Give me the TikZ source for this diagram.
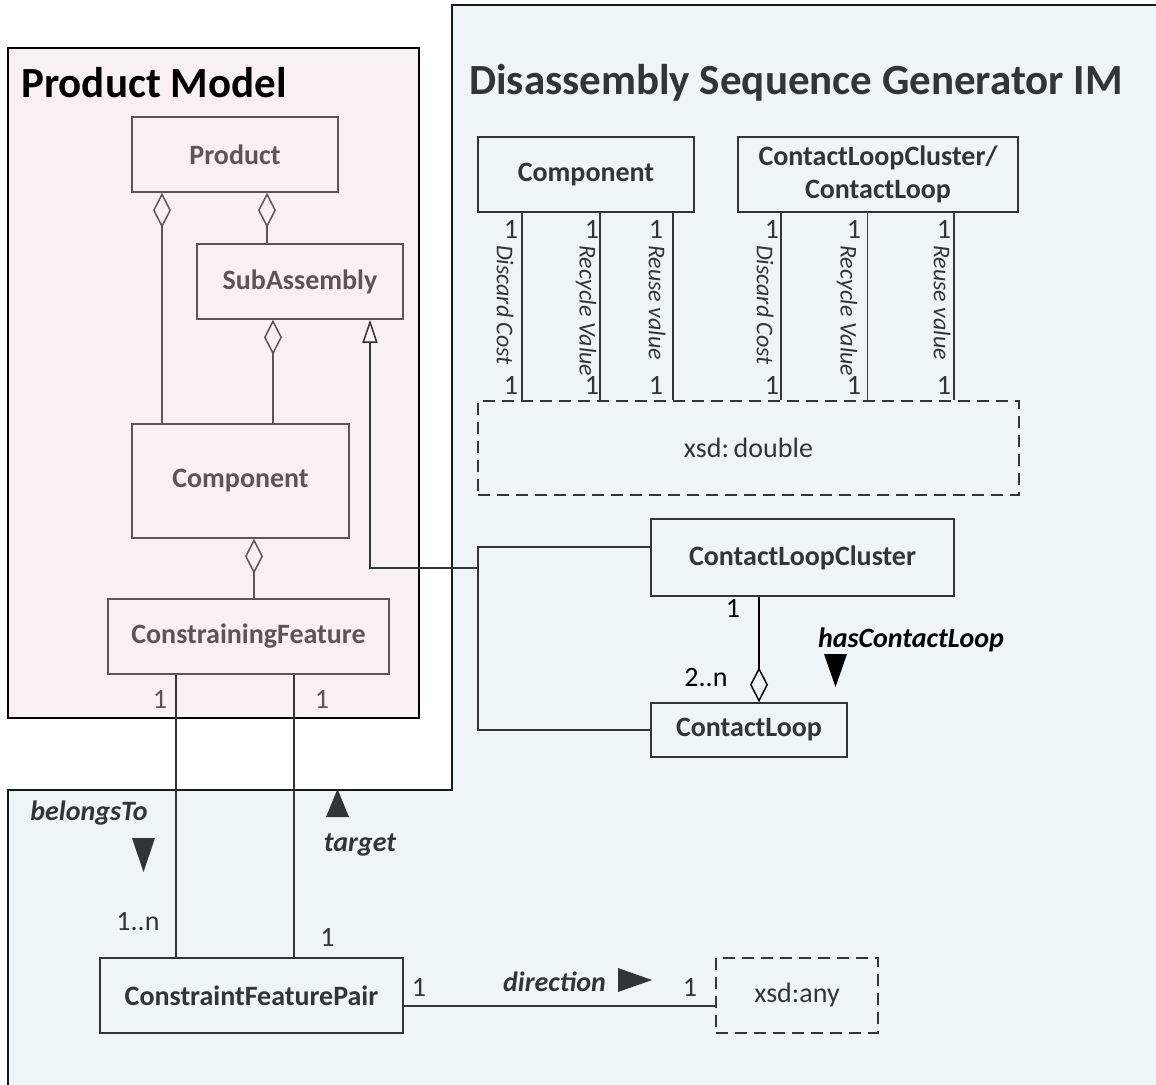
\documentclass[tikz,border=0pt]{standalone}
\usepackage{fontspec}
\setmainfont{Carlito}
\usetikzlibrary{arrows.meta}
\definecolor{pinkbg}{HTML}{F9F0F1}
\definecolor{bluebg}{HTML}{EDF5F8}
\definecolor{pinkln}{HTML}{5E5456}
\definecolor{blueln}{HTML}{2F3538}
\definecolor{wireln}{HTML}{333333}
\begin{document}
\begin{tikzpicture}[x=1pt,y=-1pt,
  pbox/.style={draw=pinkln, line width=1.5pt, text=pinkln, inner sep=0pt,
    font=\fontsize{28}{33}\selectfont\bfseries},
  bbox/.style={draw=blueln, line width=1.5pt, text=blueln, inner sep=0pt,
    font=\fontsize{28}{33}\selectfont\bfseries},
  dbox/.style={draw=blueln, line width=1.5pt, text=blueln, inner sep=0pt, dash pattern=on 12pt off 7pt,
    font=\fontsize{28}{33}\selectfont},
  mult/.style={text=blueln, inner sep=0pt, font=\fontsize{28}{32}\selectfont},
  rlab/.style={rotate=-90, anchor=west, text=blueln, inner sep=0pt, font=\fontsize{24}{28}\selectfont\itshape},
  rolelab/.style={text=blueln, inner sep=0pt, font=\fontsize{28}{33}\selectfont\bfseries\itshape},
  pwire/.style={draw=pinkln, line width=1.5pt},
  bwire/.style={draw=blueln, line width=1.5pt},
  kwire/.style={draw=wireln, line width=1.5pt},
  aggr/.style={{Diamond[open, length=35pt, width=18pt]}-},
  aggrend/.style={-{Diamond[open, length=35pt, width=18pt]}},
  gen/.style={-{Triangle[open, length=23pt, width=15pt]}},
]
\useasboundingbox (0,0) rectangle (1156,1084);
\clip (0,0) rectangle (1156,1084);

% regions
\fill[bluebg] (452,5) -- (1170,5) -- (1170,1100) -- (8,1100) -- (8,790) -- (452,790) -- cycle;
\draw[line width=2pt, black!90] (8,1100) -- (8,790) -- (452,790) -- (452,5) -- (1170,5);
\draw[line width=2pt, fill=pinkbg] (8,48) rectangle (419,718);

\node[anchor=west, inner sep=0pt, font=\fontsize{43}{50}\selectfont\bfseries] (pmtitle) at (21,83) {Product Model};
\node[anchor=west, inner sep=0pt, text=blueln, font=\fontsize{43}{50}\selectfont\bfseries] (dstitle) at (469,83) {Disassembly Sequence Generator IM};

% product model classes
\node[pbox, minimum width=206pt, minimum height=75pt] (prod) at (235,154.5) {Product};
\node[pbox, minimum width=206pt, minimum height=75pt] (sub) at (300,281.5) {SubAssembly};
\node[pbox, minimum width=217pt, minimum height=114pt] (comp) at (240.5,481) {Component};
\node[pbox, minimum width=281pt, minimum height=75pt] (cf) at (248.5,636.5) {ConstrainingFeature};

\draw[pwire, aggr] ([xshift=-73pt]prod.south) -- ([xshift=-78.5pt]comp.north);
\draw[pwire, aggr] ([xshift=32pt]prod.south) -- ([xshift=-33pt]sub.north);
\draw[pwire, aggr] ([xshift=-27pt]sub.south) -- ([xshift=32.5pt]comp.north);
\draw[pwire, aggr] ([xshift=13.5pt]comp.south) -- ([xshift=5.5pt]cf.north);

% DSG classes
\node[bbox, minimum width=216pt, minimum height=75pt] (dcomp) at (586,174.5) {Component};
\node[bbox, minimum width=280pt, minimum height=75pt, align=center] (dclc) at (878,174.5) {ContactLoopCluster/\\ContactLoop};
\node[dbox, minimum width=541pt, minimum height=94pt] (xsd) at (748.5,448) {xsd:\,double};
\node[bbox, minimum width=303pt, minimum height=77pt] (clc) at (802.5,557.5) {ContactLoopCluster};
\node[bbox, minimum width=196pt, minimum height=54pt] (cl) at (749,730) {ContactLoop};
\node[bbox, minimum width=303pt, minimum height=75pt] (cfp) at (251.5,995.5) {ConstraintFeaturePair};
\node[dbox, minimum width=162pt, minimum height=75pt] (any) at (797,995.5) {xsd:any};

% value associations
\draw[bwire] ([xshift=-64pt]dcomp.south) -- ([xshift=-226.5pt]xsd.north);
\draw[bwire] ([xshift=14pt]dcomp.south) -- ([xshift=-148.5pt]xsd.north);
\draw[bwire] ([xshift=87pt]dcomp.south) -- ([xshift=-75.5pt]xsd.north);
\draw[bwire] ([xshift=-97pt]dclc.south) -- ([xshift=32.5pt]xsd.north);
\draw[bwire] ([xshift=-10.5pt]dclc.south) -- ([xshift=119pt]xsd.north);
\draw[bwire] ([xshift=76pt]dclc.south) -- ([xshift=205.5pt]xsd.north);

\foreach \xx in {511,592,656,772,854,944}{
  \node[mult] at (\xx,229) {1};
  \node[mult] at (\xx,385) {1};
}
\node[rlab] (l1) at (505,245) {Discard Cost};
\node[rlab] (l2) at (586,245) {Recycle Value};
\node[rlab] (l3) at (657,245) {Reuse value};
\node[rlab] (l4) at (765,245) {Discard Cost};
\node[rlab] (l5) at (847,245) {Recycle Value};
\node[rlab] (l6) at (942,245) {Reuse value};

% generalization
\coordinate (jt) at (478,547);
\coordinate (jb) at (478,730);
\coordinate (jm) at (478,568);
\draw[kwire] ([yshift=10.5pt]clc.west) -- (jt) -- (jb) -- (cl.west);
\draw[kwire, gen] (jm) -| ([xshift=70pt]sub.south);

% contact loop aggregation
\draw[bwire, draw=black, aggrend] ([xshift=-43.5pt]clc.south) -- ([xshift=10pt]cl.north);
\node[mult, text=black] at (733,608) {1};
\node[mult, text=black] at (706,678) {2..n};
\node[rolelab, text=black] (hcl) at (911,640) {hasContactLoop};
\fill[black] (824,654) -- (847,654) -- (835.5,687) -- cycle;

% constraining feature links
\draw[kwire] ([xshift=-72.5pt]cf.south) -- ([xshift=-75.5pt]cfp.north);
\draw[kwire] ([xshift=45.5pt]cf.south) -- ([xshift=42.5pt]cfp.north);
\node[mult, text=pinkln] at (160,699) {1};
\node[mult, text=pinkln] at (322,699) {1};
\node[rolelab] (bt) at (89,813) {belongsTo};
\fill[blueln] (132,838) -- (155,838) -- (143.5,872) -- cycle;
\node[rolelab] (tg) at (360,845) {target};
\fill[blueln] (326,817) -- (349,817) -- (337.5,789) -- cycle;
\node[mult] at (138,922) {1..n};
\node[mult] at (327.5,937) {1};

% direction
\draw[bwire] ([yshift=-10.5pt]cfp.east) -- ([yshift=-10.5pt]any.west);
\node[mult] at (419,987) {1};
\node[mult] at (690,987) {1};
\node[rolelab] (dir) at (554.5,982) {direction};
\fill[blueln] (618,968) -- (618,992) -- (652,980) -- cycle;
\end{tikzpicture}
\end{document}
